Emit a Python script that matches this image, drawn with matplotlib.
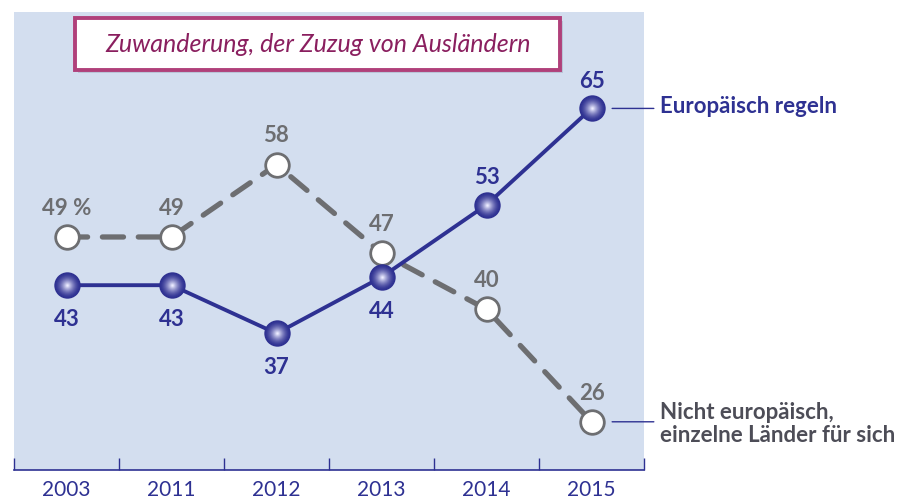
import matplotlib.pyplot as plt
from matplotlib.patches import Rectangle
import numpy as np

# Data
years = ['2003', '2011', '2012', '2013', '2014', '2015']
europa = [43, 43, 37, 44, 53, 65]
national = [49, 49, 58, 47, 40, 26]
national_labels = ['49 %', '49', '58', '47', '40', '26']
europa_below = [True, True, True, True, False, False]

title = 'Zuwanderung, der Zuzug von Ausländern'
label_europa = 'Europäisch regeln'
label_national = 'Nicht europäisch,\neinzelne Länder für sich'

navy = '#2e3192'
grey = '#6d6e71'
bg = '#d3deef'

plt.rcParams['font.family'] = ['Lato', 'DejaVu Sans']

fig = plt.figure(figsize=(9, 5), dpi=100)
ax = fig.add_axes([14 / 900, 30 / 500, 630 / 900, 458 / 500])
ax.set_facecolor(bg)

x = np.arange(len(years))

# grey dashed series
ax.plot(x, national, color=grey, lw=3.8, dashes=(4, 2.8), dash_capstyle='round', zorder=2)
ax.plot(x, national, 'o', ms=17, mfc='white', mec=grey, mew=2, zorder=3)

# blue series with shaded spheres
ax.plot(x, europa, color=navy, lw=2.8, zorder=4)
c0 = np.array([0.18, 0.19, 0.57])
c1 = np.array([0.92, 0.92, 1.0])
steps = 14
for k in range(steps):
    t = k / (steps - 1)
    size = 19 * (1 - t) + 1.5 * t
    col = c0 * (1 - t ** 1.6) + c1 * t ** 1.6
    ax.plot(x, europa, 'o', ms=size, mfc=col, mec='none', zorder=5 + k * 0.01)

# value labels
for i, v in enumerate(national):
    ax.annotate(national_labels[i], (x[i], v), xytext=(0, 16), textcoords='offset points',
                ha='center', va='baseline', fontsize=16, fontweight='bold', color=grey, zorder=6)
for i, v in enumerate(europa):
    off = -29.5 if europa_below[i] else 15
    ax.annotate(str(v), (x[i], v), xytext=(0, off), textcoords='offset points',
                ha='center', va='baseline', fontsize=16, fontweight='bold', color=navy, zorder=6)

ax.set_xlim(-0.5, 5.5)
ax.set_ylim(20, 77)

# axes styling
for s in ['top', 'right', 'left']:
    ax.spines[s].set_visible(False)
ax.spines['bottom'].set_color(navy)
ax.spines['bottom'].set_linewidth(1.2)
ax.set_yticks([])
ax.set_xticks(x)
ax.set_xticklabels(years, fontsize=15, color=navy)
ax.tick_params(axis='x', which='major', length=0, pad=7)
ax.set_xticks(np.arange(-0.5, 6, 1), minor=True)
ax.tick_params(axis='x', which='minor', direction='in', length=9, width=1, color=navy)

# title box
ax.add_patch(Rectangle((0.101, 0.866), 0.77, 0.114, transform=ax.transAxes,
                       fc='#a8b4c8', ec='none', alpha=0.6, zorder=9))
ax.add_patch(Rectangle((0.097, 0.873), 0.77, 0.114, transform=ax.transAxes,
                       fc='white', ec='#b0407a', lw=2.8, zorder=10))
ax.text(0.482, 0.930, title, transform=ax.transAxes, ha='center', va='center',
        fontsize=18, style='italic', color='#8a1f5f', zorder=11)

# series labels outside the plot
ax.annotate('', xy=(5.17, europa[-1]), xytext=(5.62, europa[-1]), annotation_clip=False,
            arrowprops=dict(arrowstyle='-', color=navy, lw=1))
ax.text(5.65, europa[-1] + 0.3, label_europa, ha='left', va='center', fontsize=16,
        fontweight='bold', color=navy, clip_on=False)
ax.annotate('', xy=(5.17, national[-1]), xytext=(5.62, national[-1]), annotation_clip=False,
            arrowprops=dict(arrowstyle='-', color=navy, lw=1))
ax.text(5.65, national[-1] - 0.3, label_national, ha='left', va='center', fontsize=16,
        fontweight='bold', color='#4d4d57', linespacing=1.15, clip_on=False)

fig.savefig('out.png', dpi=100)
